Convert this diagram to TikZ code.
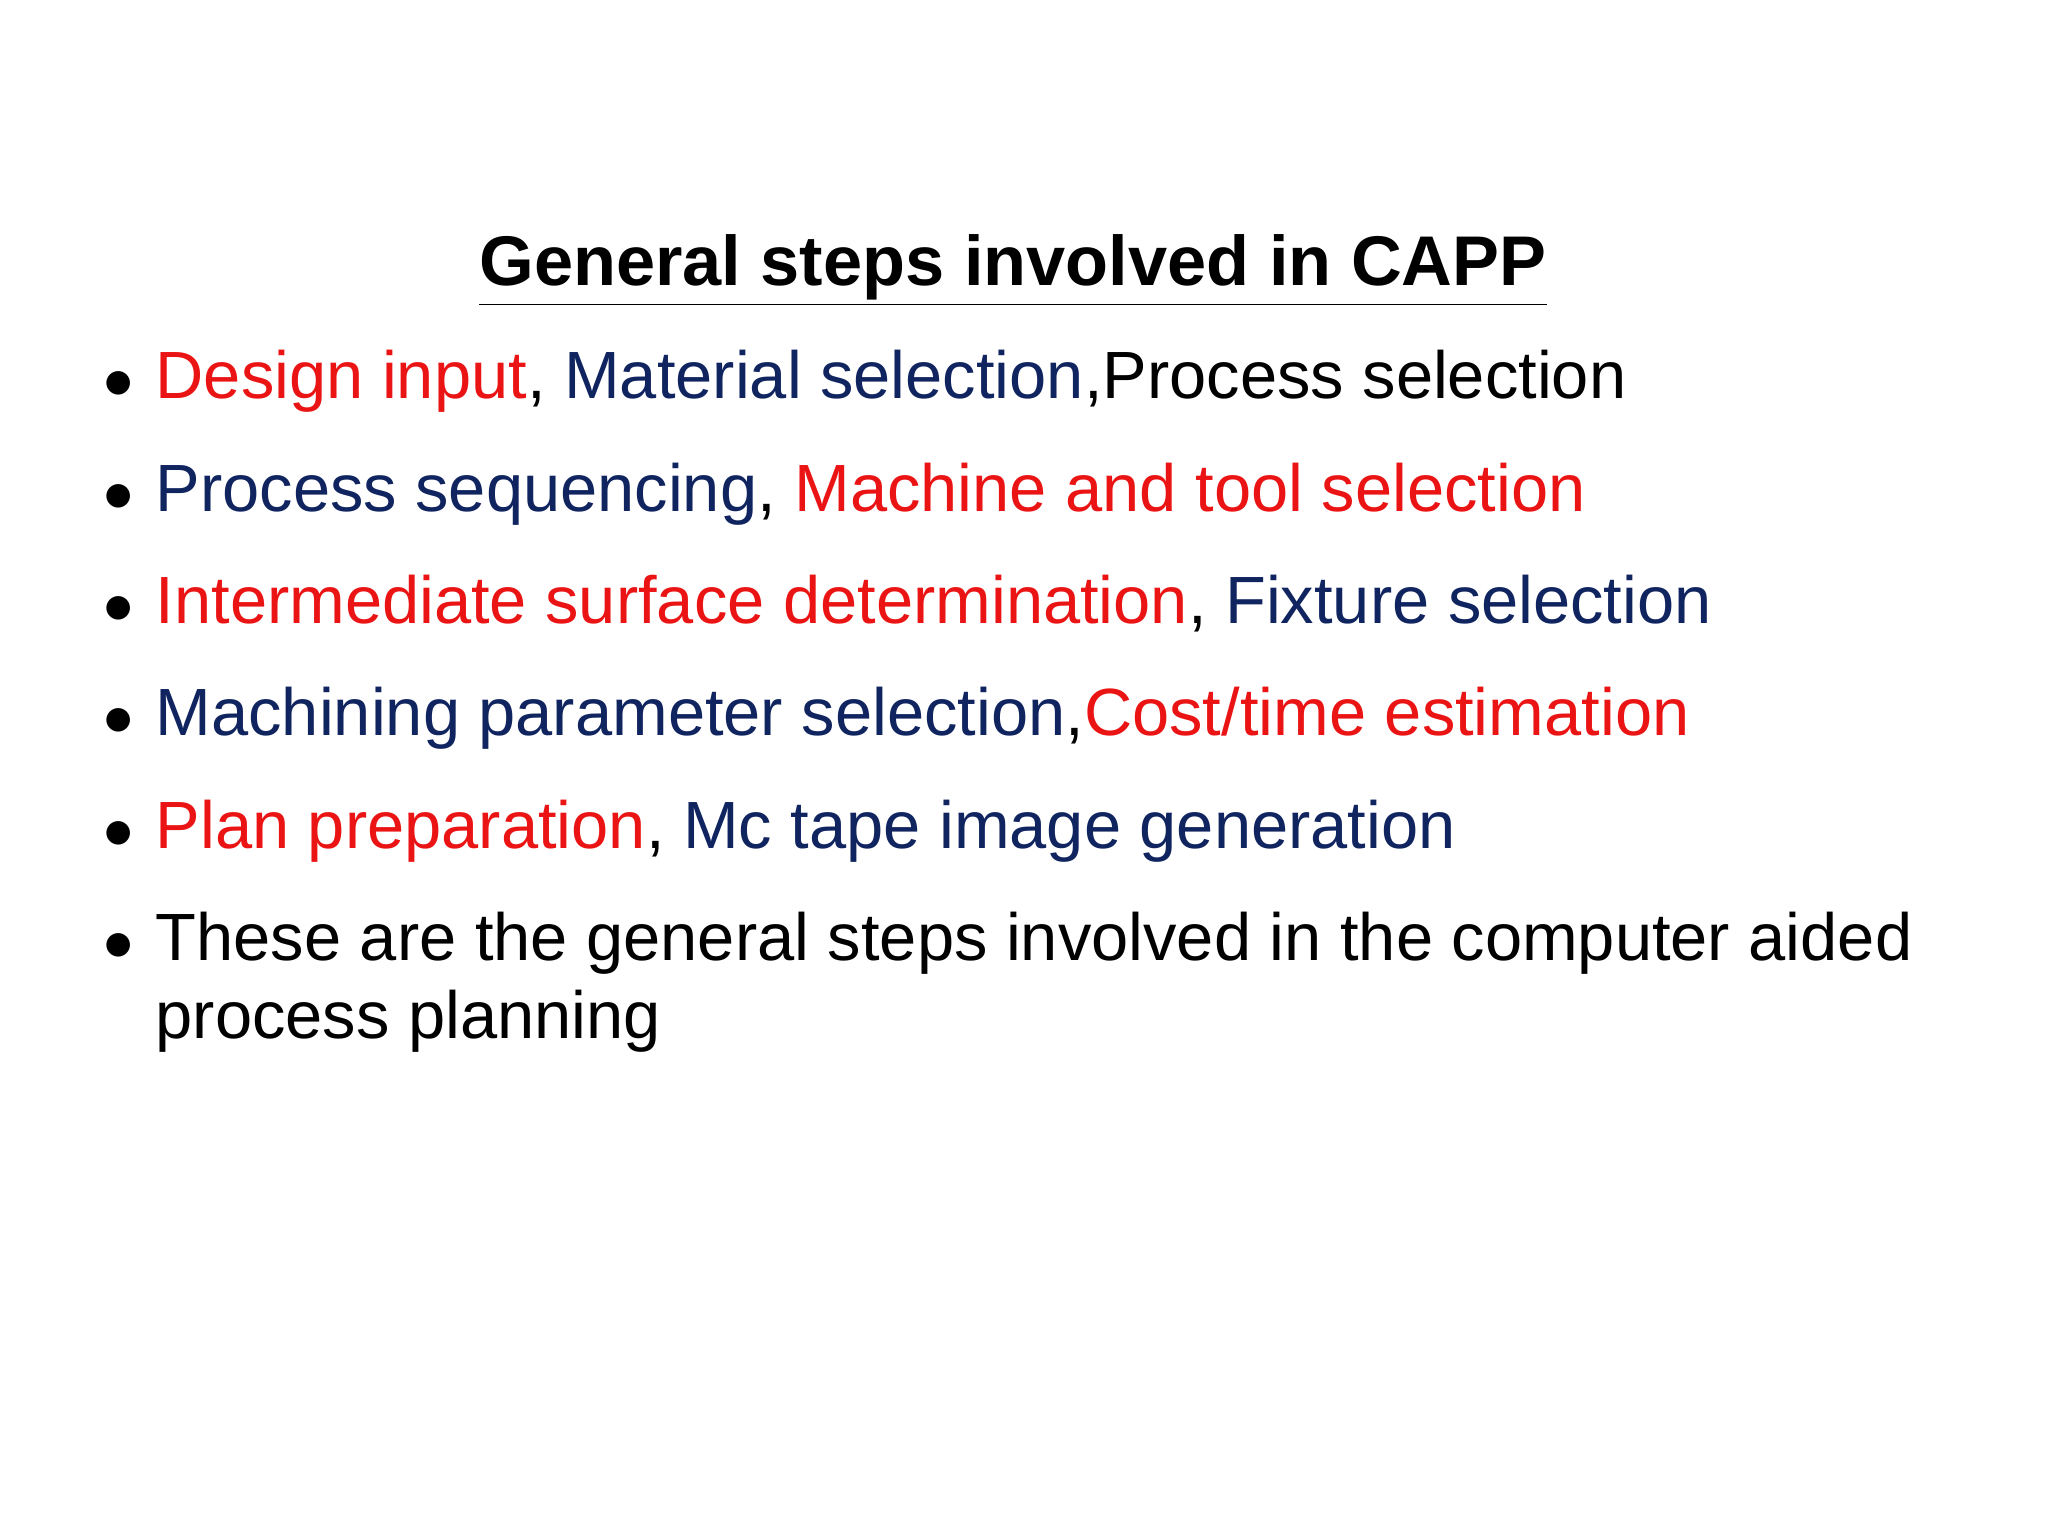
\documentclass[tikz,border=0pt]{standalone}
\usepackage{fontspec}
\setmainfont{Liberation Sans}
\definecolor{rd}{RGB}{235,20,20}
\definecolor{nv}{RGB}{16,36,96}
\begin{document}
\begin{tikzpicture}[x=0.01cm,y=-0.01cm,
  line/.style={anchor=base west,inner sep=0pt,font=\fontsize{19pt}{23pt}\selectfont},
  bul/.style={anchor=base,inner sep=0pt,font=\fontsize{19pt}{23pt}\selectfont}]
\useasboundingbox (0,0) rectangle (2048,1536);
\node[anchor=base,inner sep=0pt,font=\fontsize{20pt}{24pt}\selectfont\bfseries] (title) at (1013,285) {\underline{General steps involved in CAPP}};
\foreach \y [count=\i] in {398,511,623,735,848,960} \node[bul] (b\i) at (119,\y) {$\bullet$};
\node[line] (l1) at (155,398) {\color{rd}Design input\color{black}, \color{nv}Material selection\color{black},Process selection};
\node[line] (l2) at (155,511) {\color{nv}Process sequencing\color{black}, \color{rd}Machine and tool selection};
\node[line] (l3) at (155,623) {\color{rd}Intermediate surface determination\color{black}, \color{nv}Fixture selection};
\node[line] (l4) at (155,735) {\color{nv}Machining parameter selection\color{black},\color{rd}Cost/time estimation};
\node[line] (l5) at (155,848) {\color{rd}Plan preparation\color{black}, \color{nv}Mc tape image generation};
\node[line] (l6) at (155,960) {These are the general steps involved in the computer aided};
\node[line] (l7) at (155,1038) {process planning};
\end{tikzpicture}
\end{document}
